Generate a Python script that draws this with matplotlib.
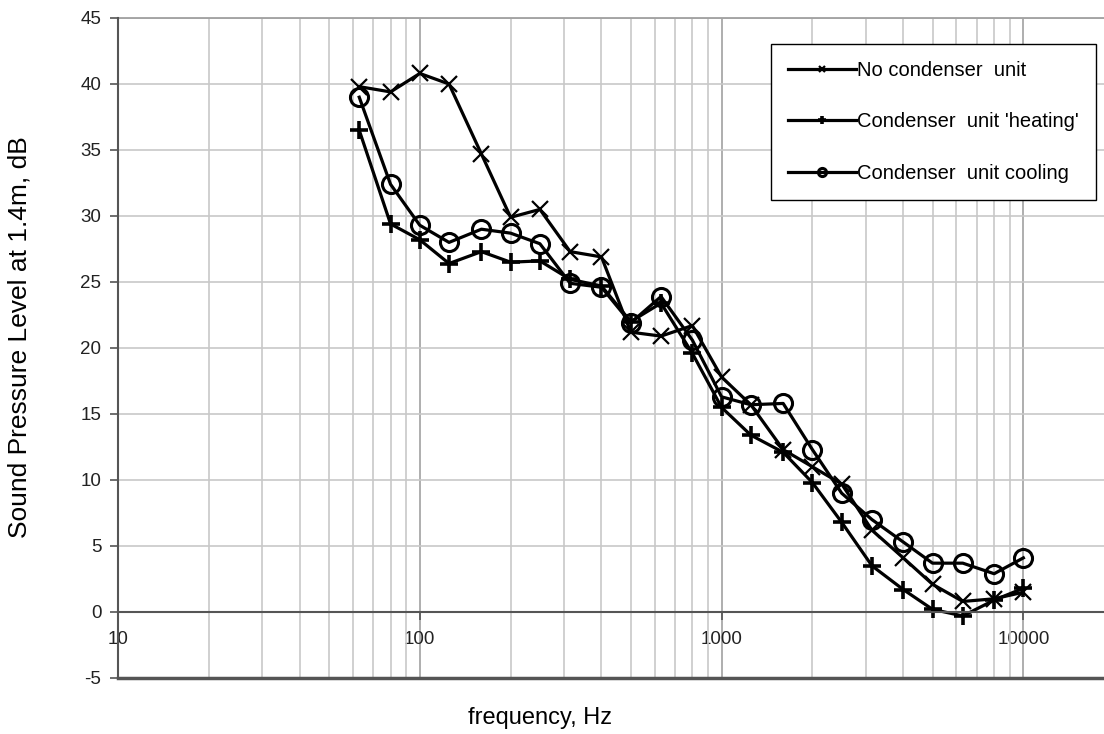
import matplotlib.pyplot as plt
from matplotlib.ticker import LogLocator, FixedLocator, NullFormatter

plt.rcParams['font.family'] = ['Liberation Sans', 'DejaVu Sans']
plt.rcParams['axes.unicode_minus'] = False

# 1/3 octave band centre frequencies, Hz
freq = [63, 80, 100, 125, 160, 200, 250, 315, 400, 500, 630, 800,
        1000, 1250, 1600, 2000, 2500, 3150, 4000, 5000, 6300, 8000, 10000]

# sound pressure level at 1.4 m, dB
no_condenser = [39.8, 39.4, 40.8, 40.0, 34.7, 29.9, 30.5, 27.3, 26.9, 21.2, 20.9, 21.7,
                17.8, 15.7, 12.3, 11.0, 9.7, 6.2, 4.1, 2.1, 0.8, 1.0, 1.5]
heating = [36.5, 29.4, 28.2, 26.4, 27.3, 26.5, 26.6, 25.2, 24.7, 22.0, 23.4, 19.6,
           15.5, 13.4, 12.1, 9.8, 6.8, 3.5, 1.7, 0.2, -0.3, 0.9, 1.8]
cooling = [39.0, 32.4, 29.3, 28.0, 29.0, 28.7, 27.9, 24.9, 24.6, 21.9, 23.9, 20.6,
           16.3, 15.7, 15.8, 12.3, 9.0, 7.0, 5.3, 3.7, 3.7, 2.9, 4.1]

labels = ["No condenser  unit", "Condenser  unit 'heating'", "Condenser  unit cooling"]
x_ticks = [10, 100, 1000, 10000]
y_ticks = list(range(-5, 50, 5))

fig = plt.figure(figsize=(11.04, 7.34), dpi=100)
ax = fig.add_axes([118 / 1104, 56 / 734, 1 - 118 / 1104, 660 / 734])

ax.set_xscale('log')
ax.set_xlim(10, 18500)
ax.set_ylim(-5, 45)

# grid
ax.xaxis.set_major_locator(FixedLocator(x_ticks))
ax.xaxis.set_minor_locator(LogLocator(base=10, subs=range(2, 10)))
ax.xaxis.set_minor_formatter(NullFormatter())
ax.set_yticks(y_ticks)
ax.grid(True, which='minor', axis='x', color='#c8c8c8', lw=1.2)
ax.grid(True, which='major', axis='x', color='#a8a8a8', lw=1.3)
ax.grid(True, which='major', axis='y', color='#c8c8c8', lw=1.2)
ax.set_axisbelow(True)

lw = 2.3
ax.plot(freq, no_condenser, color='black', lw=lw, marker='x', ms=11, mew=1.6,
        label=labels[0])
ax.plot(freq, heating, color='black', lw=lw, marker='+', ms=13, mew=2.6,
        label=labels[1])
ax.plot(freq, cooling, color='black', lw=lw, marker='o', ms=13, mew=2.2,
        mfc='none', label=labels[2])

# axes: zero line carries the frequency labels, frame at -5
for s in ['top', 'right']:
    ax.spines[s].set_visible(False)
ax.spines['left'].set_color('#555555')
ax.spines['left'].set_linewidth(1.5)
ax.spines['bottom'].set_position(('data', 0))
ax.spines['bottom'].set_color('#555555')
ax.spines['bottom'].set_linewidth(1.5)
ax.axhline(-5, color='#555555', lw=2.5, clip_on=False)
ax.axhline(45, color='#a0a0a0', lw=1.3, clip_on=False)

ax.set_xticklabels([str(t) for t in x_ticks])
ax.tick_params(axis='x', which='major', direction='out', length=6, width=1.2,
               color='#555555', labelsize=13.5, pad=8, labelcolor='#222222')
ax.tick_params(axis='x', which='minor', length=0)
ax.tick_params(axis='y', direction='out', length=6, width=1.2, color='#555555',
               labelsize=13.5, pad=6, labelcolor='#222222')

ax.set_ylabel('Sound Pressure Level at 1.4m, dB', fontsize=19)
ax.yaxis.set_label_coords((32 - 118) / 986, 0.516)
fig.text(540 / 1104, 1 - 718 / 734, 'frequency, Hz',
         fontsize=17, ha='center', va='center')

leg = ax.legend(loc='upper right', bbox_to_anchor=(1096 / 1104, 1 - 44 / 734),
                bbox_transform=fig.transFigure, fontsize=14.5, markerscale=0.45,
                handlelength=3.4, handletextpad=0.05, labelspacing=1.6,
                borderpad=0.85, borderaxespad=0, fancybox=False, framealpha=1)
leg.get_frame().set_edgecolor('black')
leg.get_frame().set_linewidth(1.0)

fig.savefig('out.png', dpi=100)
